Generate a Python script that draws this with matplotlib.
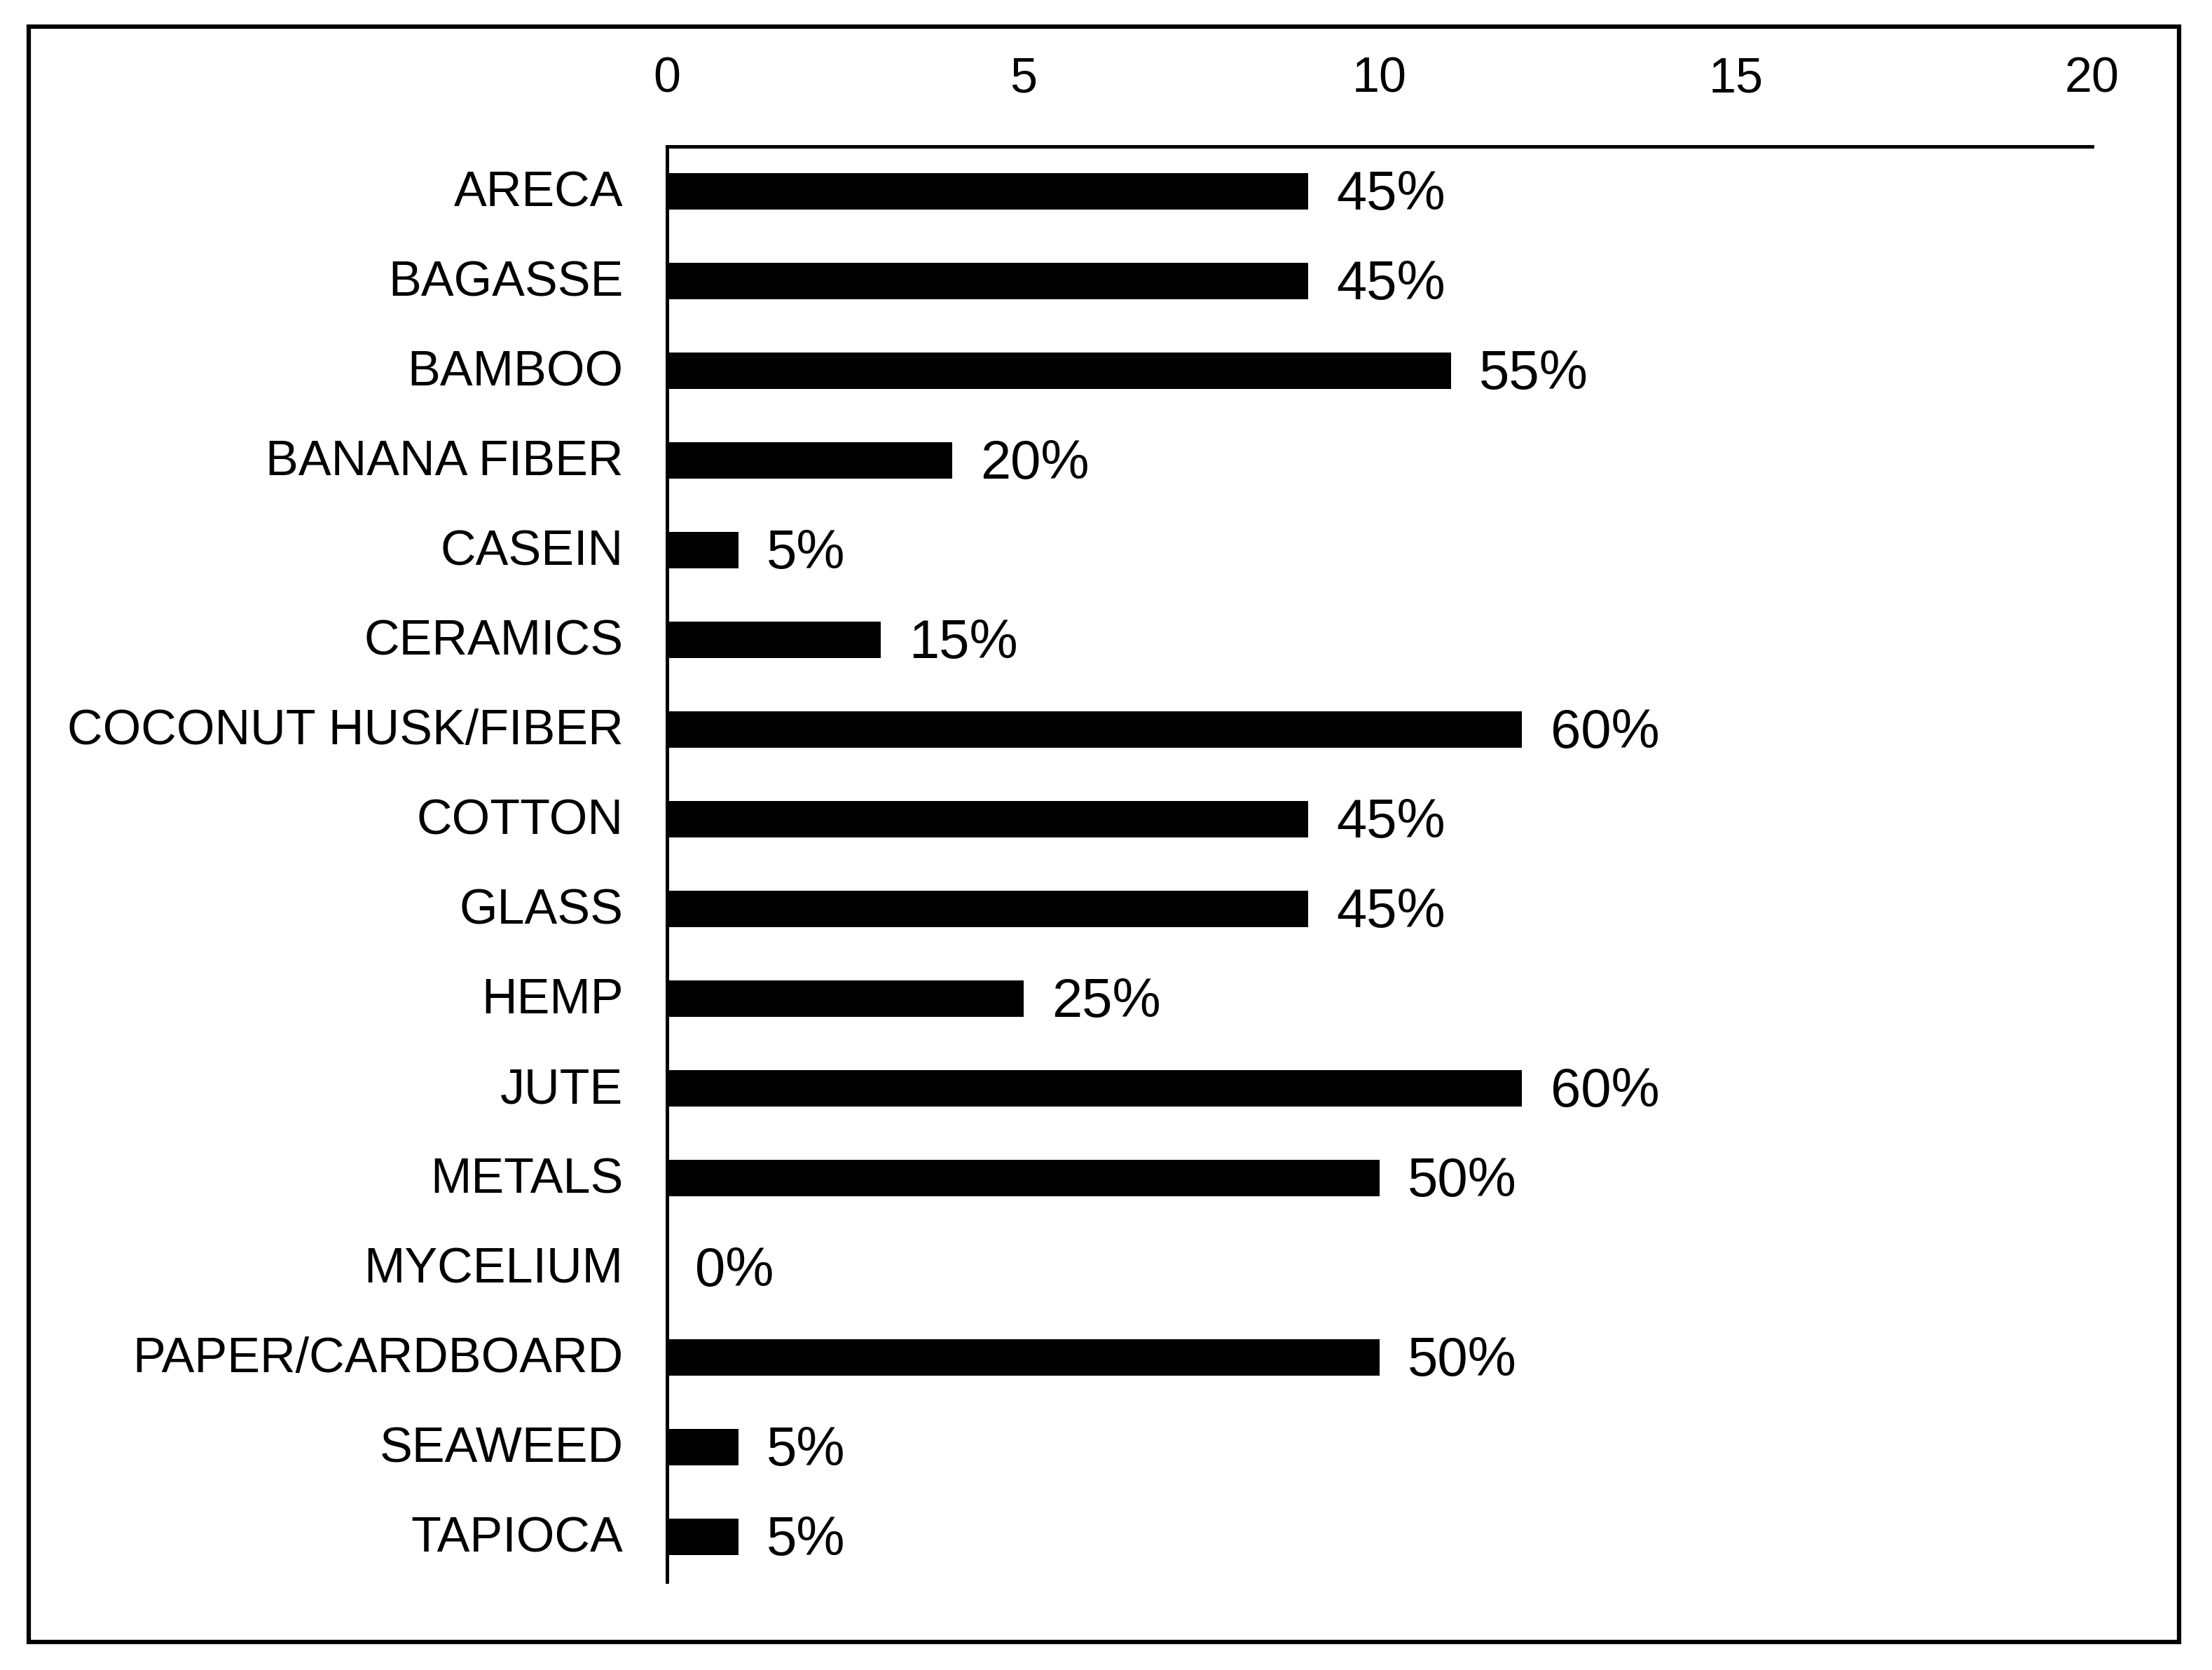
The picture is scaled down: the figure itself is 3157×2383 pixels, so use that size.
import matplotlib

matplotlib.use("Agg")

import matplotlib.pyplot as plt
import matplotlib.transforms as mtransforms
from matplotlib.patches import Rectangle

materials = [
    "ARECA",
    "BAGASSE",
    "BAMBOO",
    "BANANA FIBER",
    "CASEIN",
    "CERAMICS",
    "COCONUT HUSK/FIBER",
    "COTTON",
    "GLASS",
    "HEMP",
    "JUTE",
    "METALS",
    "MYCELIUM",
    "PAPER/CARDBOARD",
    "SEAWEED",
    "TAPIOCA",
]
counts = [9, 9, 11, 4, 1, 3, 12, 9, 9, 5, 12, 10, 0, 10, 1, 1]
percent_labels = ["45%", "45%", "55%", "20%", "5%", "15%", "60%", "45%",
                  "45%", "25%", "60%", "50%", "0%", "50%", "5%", "5%"]
x_ticks = [0, 5, 10, 15, 20]

plt.rcParams["font.family"] = ["Liberation Sans", "DejaVu Sans"]

W, H, DPI = 3157, 2383, 100
figure = plt.figure(figsize=(W / DPI, H / DPI), dpi=DPI)

# outer frame around the whole chart
figure.patches.append(
    Rectangle(
        (41 / W, 1 - 2343 / H),
        (3110 - 41) / W,
        (2343 - 38) / H,
        transform=figure.transFigure,
        fill=False,
        edgecolor="black",
        linewidth=4.5,
    )
)

axis = figure.add_axes([952 / W, 1 - 2257 / H, (2986 - 952) / W, (2257 - 209) / H])
positions = list(range(len(materials)))
axis.barh(positions, counts, height=0.4, color="black")

for pos, value, text in zip(positions, counts, percent_labels):
    axis.annotate(
        text,
        xy=(value, pos),
        xytext=(29, -4),
        textcoords="offset points",
        va="center",
        ha="left",
        fontsize=56,
    )

axis.set_xlim(0, 20)
axis.set_ylim(len(materials) - 0.5, -0.5)
axis.set_xticks(x_ticks)
axis.set_yticks(positions)
axis.set_yticklabels(materials)
axis.xaxis.tick_top()
axis.tick_params(axis="both", length=0, labelsize=50.5)
axis.tick_params(axis="x", pad=45)
axis.tick_params(axis="y", pad=45)

# nudge category labels up a little
nudge = mtransforms.ScaledTranslation(0, 3 / 72, figure.dpi_scale_trans)
for label in axis.get_yticklabels():
    label.set_transform(label.get_transform() + nudge)

for side in ["right", "bottom"]:
    axis.spines[side].set_visible(False)
for side in ["top", "left"]:
    axis.spines[side].set_linewidth(3.6)

figure.savefig("out.png", dpi=DPI)
plt.close(figure)
